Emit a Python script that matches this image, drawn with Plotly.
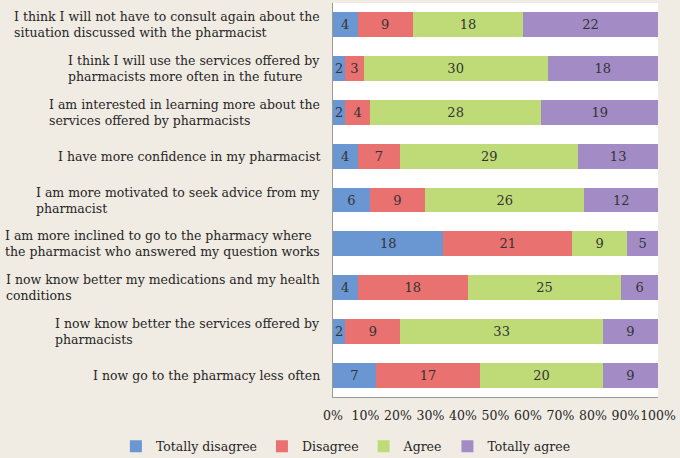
import plotly.graph_objects as go

statements = [
    "I think I will not have to consult again about the<br>situation discussed with the pharmacist",
    "I think I will use the services offered by<br>pharmacists more often in the future",
    "I am interested in learning more about the<br>services offered by pharmacists",
    "I have more confidence in my pharmacist",
    "I am more motivated to seek advice from my<br>pharmacist",
    "I am more inclined to go to the pharmacy where<br>the pharmacist who answered my question works",
    "I now know better my medications and my health<br>conditions",
    "I now know better the services offered by<br>pharmacists",
    "I now go to the pharmacy less often",
]
categories = ["S%d" % (i + 1) for i in range(len(statements))]

totally_disagree = [4, 2, 2, 4, 6, 18, 4, 2, 7]
disagree = [9, 3, 4, 7, 9, 21, 18, 9, 17]
agree = [18, 30, 28, 29, 26, 9, 25, 33, 20]
totally_agree = [22, 18, 19, 13, 12, 5, 6, 9, 9]

series = [
    ("Totally disagree", totally_disagree, "#6a97d2"),
    ("Disagree", disagree, "#e9716f"),
    ("Agree", agree, "#bedb78"),
    ("Totally agree", totally_agree, "#a38cc6"),
]

FONT = "DejaVu Serif"
FS = 12.5

fig = go.Figure()
for name, vals, col in series:
    fig.add_trace(go.Bar(
        y=categories, x=vals, name=name, orientation="h",
        marker=dict(color=col, line=dict(width=0)),
        text=[str(v) for v in vals], textposition="inside",
        insidetextanchor="middle", textangle=0,
        textfont=dict(family=FONT, size=13, color="#333333"),
        hoverinfo="skip",
    ))

annotations = []
for cat, lab in zip(categories, statements):
    annotations.append(dict(
        x=-0.033, xref="paper", y=cat, yref="y", text=lab,
        xanchor="right", yanchor="middle", align="left", showarrow=False,
        font=dict(family=FONT, size=FS, color="#262626"),
    ))

fig.update_layout(
    width=680, height=458,
    barmode="stack", barnorm="percent", bargap=0.43,
    paper_bgcolor="#f0ece3", plot_bgcolor="#ffffff",
    margin=dict(l=333, r=22, t=3, b=61, autoexpand=False),
    showlegend=True,
    legend=dict(orientation="h", xref="paper", x=-0.668, xanchor="left",
                yref="paper", y=-0.126, yanchor="middle", traceorder="normal",
                font=dict(family=FONT, size=FS, color="#262626"),
                bgcolor="rgba(0,0,0,0)", itemwidth=30),
    uniformtext=dict(minsize=13, mode="show"),
    annotations=annotations,
    font=dict(family=FONT, size=FS, color="#262626"),
)
fig.update_xaxes(range=[0, 100], dtick=10, ticksuffix="%", tickangle=0, automargin=False,
                 showgrid=False, zeroline=False, ticklabelstandoff=7,
                 showline=True, linecolor="#9a9a9a", linewidth=1, ticks="",
                 tickfont=dict(family=FONT, size=12.5, color="#262626"), fixedrange=True)
fig.update_yaxes(autorange="reversed", showticklabels=False, automargin=False,
                 showgrid=False, zeroline=False,
                 showline=True, linecolor="#9a9a9a", linewidth=1, ticks="", fixedrange=True)

fig.write_html("out.html", config={"displayModeBar": False},
               post_script="document.body.style.margin='0';")
